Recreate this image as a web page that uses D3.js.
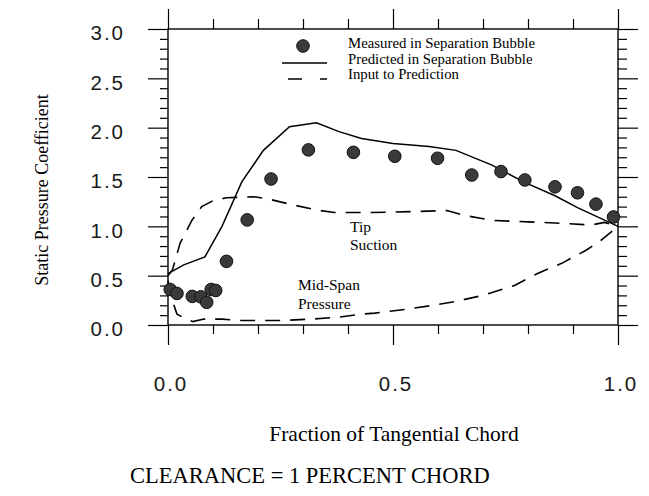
<!DOCTYPE html>
<html>
<head>
<meta charset="utf-8">
<script src="https://cdn.jsdelivr.net/npm/d3@7"></script>
<style>
  html, body { margin: 0; padding: 0; background: #fff; }
  svg { display: block; }
</style>
</head>
<body>
<svg id="chart" width="649" height="496"></svg>
<script>
// Measured static pressure coefficient in the separation bubble [x, Cp]
const measured = [
  [0.005, 0.36], [0.02, 0.32], [0.054, 0.29], [0.073, 0.285], [0.086, 0.23],
  [0.096, 0.36], [0.106, 0.35], [0.13, 0.645], [0.176, 1.065], [0.229, 1.48],
  [0.312, 1.775], [0.412, 1.75], [0.504, 1.71], [0.599, 1.69], [0.675, 1.52],
  [0.74, 1.555], [0.793, 1.47], [0.86, 1.40], [0.91, 1.34], [0.951, 1.225],
  [0.99, 1.095]
];

// Predicted static pressure in the separation bubble
const predicted = [
  [0.0, 0.52], [0.035, 0.61], [0.082, 0.69], [0.12, 1.0], [0.164, 1.45],
  [0.212, 1.77], [0.27, 2.01], [0.33, 2.05], [0.38, 1.96], [0.43, 1.89],
  [0.5, 1.84], [0.58, 1.81], [0.64, 1.77], [0.72, 1.62], [0.79, 1.45],
  [0.86, 1.31], [0.91, 1.19], [1.0, 1.0]
];

// Input to prediction: tip suction side
const tipSuction = [
  [0.0, 0.5], [0.01, 0.56], [0.027, 0.83], [0.053, 1.06], [0.075, 1.2],
  [0.1, 1.26], [0.13, 1.29], [0.19, 1.30], [0.22, 1.28], [0.275, 1.22],
  [0.33, 1.165], [0.37, 1.14], [0.45, 1.14], [0.55, 1.15], [0.62, 1.16],
  [0.66, 1.11], [0.72, 1.06], [0.8, 1.045], [0.88, 1.03], [0.94, 1.013],
  [0.97, 1.04], [1.0, 1.0]
];

// Input to prediction: mid-span pressure side
const midSpan = [
  [0.0, 0.45], [0.008, 0.27], [0.02, 0.11], [0.04, 0.06], [0.055, 0.035],
  [0.08, 0.06], [0.12, 0.06], [0.16, 0.045], [0.25, 0.045], [0.32, 0.06],
  [0.38, 0.08], [0.43, 0.11], [0.46, 0.12], [0.53, 0.16], [0.59, 0.20],
  [0.64, 0.24], [0.70, 0.30], [0.77, 0.40], [0.82, 0.52], [0.875, 0.625],
  [0.93, 0.76], [0.96, 0.85], [1.0, 1.0]
];

const xTickLabels = ["0.0", "0.5", "1.0"];
const yTickLabels = ["0.0", "0.5", "1.0", "1.5", "2.0", "2.5", "3.0"];
const legendLabels = [
  "Measured in Separation Bubble",
  "Predicted in Separation Bubble",
  "Input to Prediction"
];

const svg = d3.select("#chart");
const plot = { left: 168, right: 618, top: 29, bottom: 325 };

const x = d3.scaleLinear().domain([0, 1]).range([plot.left, plot.right]);
const y = d3.scaleLinear().domain([0, 3]).range([plot.bottom, plot.top]);

const serif = "'Liberation Serif', 'Times New Roman', serif";
const sans = "'Liberation Sans', Arial, sans-serif";

// Frame
svg.append("rect")
  .attr("x", plot.left).attr("y", plot.top)
  .attr("width", plot.right - plot.left).attr("height", plot.bottom - plot.top)
  .attr("fill", "none").attr("stroke", "#000").attr("stroke-width", 1.4);

// Outward ticks on all four sides: long at 0.5 steps, short at 0.1 steps
function tickAxes(axisFn, scale, values, len, transform) {
  svg.append("g")
    .attr("transform", transform)
    .call(axisFn(scale).tickValues(values).tickSize(len).tickFormat(""))
    .call(g => g.select(".domain").remove())
    .call(g => g.selectAll("line").attr("stroke", "#000").attr("stroke-width", 1.2));
}
const xMinor = d3.range(0, 1.0001, 0.1).map(v => +v.toFixed(2)).filter(v => v % 0.5 !== 0);
const xMajor = [0, 0.5, 1];
const yMinor = d3.range(0, 3.0001, 0.1).map(v => +v.toFixed(2)).filter(v => Math.abs(v * 2 - Math.round(v * 2)) > 1e-6);
const yMajor = [0, 0.5, 1, 1.5, 2, 2.5, 3];

tickAxes(d3.axisBottom, x, xMinor, 9, `translate(0,${plot.bottom})`);
tickAxes(d3.axisBottom, x, xMajor, 20, `translate(0,${plot.bottom})`);
tickAxes(d3.axisTop, x, xMinor, 10, `translate(0,${plot.top})`);
tickAxes(d3.axisTop, x, xMajor, 20, `translate(0,${plot.top})`);
tickAxes(d3.axisLeft, y, yMinor, 8, `translate(${plot.left},0)`);
tickAxes(d3.axisLeft, y, yMajor, 20, `translate(${plot.left},0)`);
tickAxes(d3.axisRight, y, yMinor, 9, `translate(${plot.right},0)`);
tickAxes(d3.axisRight, y, yMajor, 20, `translate(${plot.right},0)`);

// Tick labels
svg.append("g").selectAll("text")
  .data(xTickLabels).join("text")
  .attr("x", d => x(+d) + 3)
  .attr("y", 384)
  .attr("dy", "0.36em")
  .attr("text-anchor", "middle")
  .attr("font-family", sans).attr("font-size", 20.5)
  .attr("letter-spacing", 2)
  .attr("fill", "#1a1a1a")
  .text(d => d);

svg.append("g").selectAll("text")
  .data(yTickLabels).join("text")
  .attr("x", 125)
  .attr("y", d => y(+d) + 4)
  .attr("dy", "0.36em")
  .attr("text-anchor", "end")
  .attr("font-family", sans).attr("font-size", 20.5)
  .attr("letter-spacing", 2)
  .attr("fill", "#1a1a1a")
  .text(d => d);

// Axis titles
svg.append("text")
  .attr("transform", "translate(48,190) rotate(-90)")
  .attr("text-anchor", "middle")
  .attr("font-family", serif).attr("font-size", 18)
  .text("Static Pressure Coefficient");

svg.append("text")
  .attr("x", 394).attr("y", 441)
  .attr("text-anchor", "middle")
  .attr("font-family", serif).attr("font-size", 21.5)
  .text("Fraction of Tangential Chord");

svg.append("text")
  .attr("x", 130).attr("y", 483)
  .attr("font-family", serif).attr("font-size", 22.5)
  .text("CLEARANCE = 1 PERCENT CHORD");

// Curves
const line = d3.line().x(d => x(d[0])).y(d => y(d[1]));
const curves = svg.append("g").attr("fill", "none").attr("stroke", "#000");

curves.append("path").datum(predicted)
  .attr("d", line).attr("stroke-width", 1.5);
curves.append("path").datum(tipSuction)
  .attr("d", line).attr("stroke-width", 1.6).attr("stroke-dasharray", "15,10");
curves.append("path").datum(midSpan)
  .attr("d", line).attr("stroke-width", 1.6).attr("stroke-dasharray", "15,10");

// Measured points
svg.append("g").selectAll("circle")
  .data(measured).join("circle")
  .attr("cx", d => x(d[0])).attr("cy", d => y(d[1]))
  .attr("r", 6.3)
  .attr("fill", "#3a3a3a").attr("stroke", "#111").attr("stroke-width", 1);

// Curve annotations
const note = svg.append("g").attr("font-family", serif).attr("font-size", 15.5).attr("fill", "#000");
note.append("text").attr("x", 350).attr("y", 232).text("Tip");
note.append("text").attr("x", 350).attr("y", 250).text("Suction");
note.append("text").attr("x", 298).attr("y", 290).text("Mid-Span");
note.append("text").attr("x", 298).attr("y", 309).text("Pressure");

// Legend
const legend = svg.append("g");
legend.append("circle").attr("cx", 303).attr("cy", 46).attr("r", 6.3)
  .attr("fill", "#3a3a3a").attr("stroke", "#111").attr("stroke-width", 1);
legend.append("line").attr("x1", 282).attr("x2", 327).attr("y1", 63).attr("y2", 63)
  .attr("stroke", "#000").attr("stroke-width", 1.5);
legend.append("line").attr("x1", 288).attr("x2", 327).attr("y1", 79).attr("y2", 79)
  .attr("stroke", "#000").attr("stroke-width", 1.6).attr("stroke-dasharray", "14,18");
legend.selectAll("text")
  .data(legendLabels).join("text")
  .attr("x", 348).attr("y", (d, i) => 48 + i * 15.5)
  .attr("font-family", serif).attr("font-size", 14.8)
  .text(d => d);
</script>
</body>
</html>
